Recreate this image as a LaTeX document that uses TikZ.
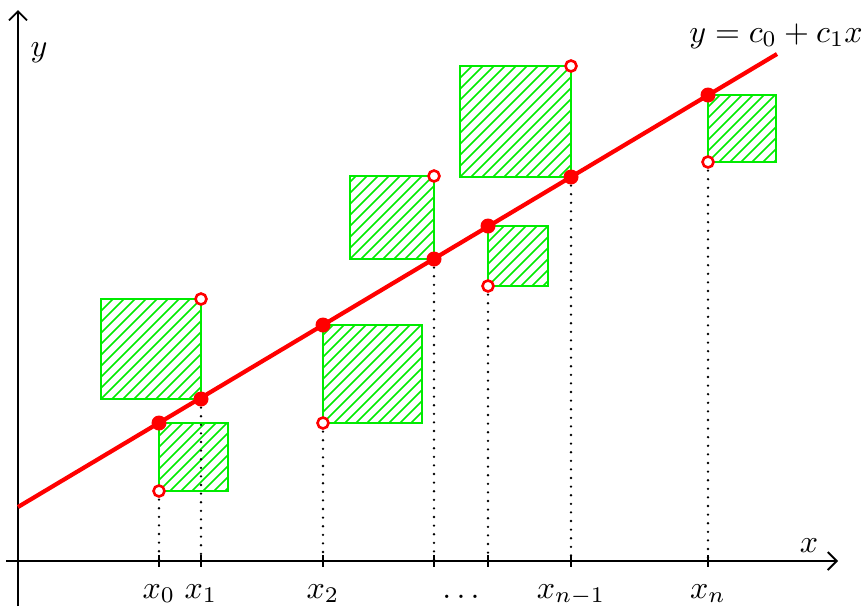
\documentclass[tikz,border=0pt]{standalone}
\usetikzlibrary{arrows.meta}
\definecolor{lsred}{RGB}{255,0,0}
\definecolor{lsgreen}{RGB}{0,235,0}
\newcommand\hatchbox[4]{%
  \begin{scope}
    \clip (#1,#2) rectangle (#3,#4);
    \foreach \s in {-121,-110,...,121}{
      \draw[hatchline] ({#1+\s},#4) -- ++(130,-130);
    }
  \end{scope}
  \draw[sqedge] (#1,#2) rectangle (#3,#4);
}
\begin{document}
\begin{tikzpicture}[x=1pt,y=-1pt,
  axis/.style={line width=1.8pt,-{Straight Barb[length=9pt,width=18pt,line width=1.8pt]}},
  fitline/.style={lsred,line width=4.2pt},
  sqedge/.style={draw=lsgreen,line width=1.9pt},
  hatchline/.style={lsgreen,line width=1.6pt},
  onpt/.style={circle,fill=lsred,inner sep=0pt,minimum size=15pt},
  datapt/.style={circle,draw=lsred,fill=white,line width=2.6pt,inner sep=0pt,minimum size=11pt},
  drop/.style={line width=2.6pt,line cap=round,dash pattern=on 0pt off 8.6pt},
  tickmark/.style={line width=1.3pt},
  lbl/.style={scale=3.2,inner sep=0pt}
]
\useasboundingbox (0,0) rectangle (864,606);
% axes
\coordinate (xs) at (6,561);
\coordinate (xe) at (838,561);
\coordinate (ys) at (18,606);
\coordinate (ye) at (18,10);
\draw[axis] (xs) -- (xe);
\draw[axis] (ys) -- (ye);
\node[lbl,anchor=base] (xlab) at (809,552) {$x$};
\node[lbl,anchor=base] (ylab) at (39,56) {$y$};
% foot points on the axis
\foreach \n/\xx in {0/159,1/201,2/323,3/434,4/488,5/571,6/708}{
  \coordinate (f\n) at (\xx,561);
  \draw[tickmark] (\xx,555) -- (\xx,567);
}
% squares
\hatchbox{159}{423}{228}{491}
\hatchbox{101}{299}{201}{399}
\hatchbox{323}{325}{422}{423}
\hatchbox{350}{176}{434}{259}
\hatchbox{488}{226}{548}{286}
\hatchbox{460}{66}{571}{177}
\hatchbox{708}{95}{776}{162}
% dotted drops
\draw[drop] (159,491) -- (f0);
\draw[drop] (201,399) -- (f1);
\draw[drop] (323,423) -- (f2);
\draw[drop] (434,259) -- (f3);
\draw[drop] (488,286) -- (f4);
\draw[drop] (571,177) -- (f5);
\draw[drop] (708,162) -- (f6);
% fitted line
\coordinate (ls) at (18,507);
\coordinate (le) at (777,54);
\draw[fitline] (ls) -- (le);
% points on line
\node[onpt] (l0) at (159,423) {};
\node[onpt] (l1) at (201,399) {};
\node[onpt] (l2) at (323,325) {};
\node[onpt] (l3) at (434,259) {};
\node[onpt] (l4) at (488,226) {};
\node[onpt] (l5) at (571,177) {};
\node[onpt] (l6) at (708,95) {};
% data points
\node[datapt] (d0) at (159,491) {};
\node[datapt] (d1) at (201,299) {};
\node[datapt] (d2) at (323,423) {};
\node[datapt] (d3) at (434,176) {};
\node[datapt] (d4) at (488,286) {};
\node[datapt] (d5) at (571,66) {};
\node[datapt] (d6) at (708,162) {};
% labels
\node[lbl,anchor=base] (t0) at (159,598) {$x_0$};
\node[lbl,anchor=base] (t1) at (201,598) {$x_1$};
\node[lbl,anchor=base] (t2) at (323,598) {$x_2$};
\node[lbl,anchor=base] (tdots) at (461,598) {$\dots$};
\node[lbl,anchor=base] (t5) at (571,598) {$x_{n-1}$};
\node[lbl,anchor=base] (t6) at (708,598) {$x_n$};
\node[lbl,anchor=base] (eq) at (776,42) {$y=c_0+c_1x$};
\end{tikzpicture}
\end{document}
